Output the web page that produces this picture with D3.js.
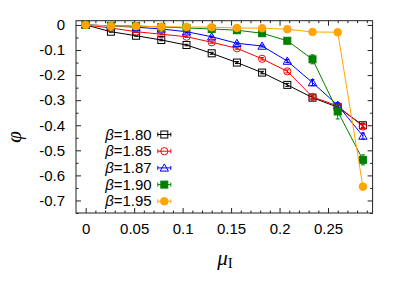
<!DOCTYPE html>
<html>
<head>
<meta charset="utf-8">
<script src="https://cdn.jsdelivr.net/npm/d3@7"></script>
<style>
  body { margin: 0; background: #fff; }
  text { font-family: "Liberation Sans", Arial, sans-serif; }
</style>
</head>
<body>
<div id="chart"></div>
<script>
// chemical potential values (x)
const mu = [0, 0.026, 0.052, 0.078, 0.104, 0.13, 0.156, 0.182, 0.208, 0.234, 0.26, 0.286];

const betas = ["1.80", "1.85", "1.87", "1.90", "1.95"];

const phi180 = [0, -0.027, -0.043, -0.060, -0.080, -0.113, -0.150, -0.190, -0.239, -0.290, -0.328, -0.400];
const phi185 = [0, -0.012, -0.027, -0.037, -0.047, -0.069, -0.093, -0.135, -0.185, -0.287, -0.323, -0.405];
const phi187 = [0, -0.004, -0.009, -0.016, -0.027, -0.047, -0.073, -0.084, -0.144, -0.230, -0.320, -0.443];
const phi190 = [0, -0.003, -0.004, -0.008, -0.012, -0.016, -0.021, -0.033, -0.063, -0.137, -0.345, -0.538];
const phi195 = [0, -0.004, -0.005, -0.007, -0.008, -0.009, -0.012, -0.013, -0.017, -0.028, -0.029, -0.645];

const err180 = [0, 0.002, 0.002, 0.003, 0.003, 0.004, 0.004, 0.005, 0.006, 0.006, 0.007, 0.008];
const err185 = [0, 0.002, 0.002, 0.003, 0.003, 0.004, 0.004, 0.005, 0.006, 0.006, 0.007, 0.008];
const err187 = [0, 0.002, 0.002, 0.002, 0.003, 0.003, 0.004, 0.004, 0.006, 0.012, 0.010, 0.012];
const err190 = [0, 0.001, 0.001, 0.002, 0.002, 0.002, 0.003, 0.003, 0.005, 0.018, 0.030, 0.020];
const err195 = [0, 0.001, 0.001, 0.001, 0.001, 0.001, 0.002, 0.002, 0.002, 0.003, 0.003, 0.005];

const xTicks = [0, 0.05, 0.1, 0.15, 0.2, 0.25];
const yTicks = [0, -0.1, -0.2, -0.3, -0.4, -0.5, -0.6, -0.7];

const series = [
  {beta: betas[0], y: phi180, e: err180, color: "#000000", shape: "square", fill: false},
  {beta: betas[1], y: phi185, e: err185, color: "#ff0000", shape: "circle", fill: false},
  {beta: betas[2], y: phi187, e: err187, color: "#0000ff", shape: "triangle", fill: false},
  {beta: betas[3], y: phi190, e: err190, color: "#008000", shape: "square", fill: true},
  {beta: betas[4], y: phi195, e: err195, color: "#ffa500", shape: "circle", fill: true}
];

const W = 407, H = 285;
const box = {left: 76, right: 372.6, top: 20.7, bottom: 213};

const svg = d3.select("#chart").append("svg")
    .attr("width", W)
    .attr("height", H);

const x = d3.scaleLinear().domain([-0.01, 0.296]).range([box.left, box.right]);
const y = d3.scaleLinear().domain([-0.75, 0.017]).range([box.bottom, box.top]);

const fmt = d => d === 0 ? "0" : String(d).replace("-", "-");

// axes (gnuplot style: ticks inward, mirrored)
const xMinor = d3.range(0, 0.2901, 0.01).map(v => +v.toFixed(2)).filter(v => !xTicks.includes(v));
const yMinor = d3.range(-0.75, 0.001, 0.05).map(v => +v.toFixed(2)).filter(v => !yTicks.includes(v));

svg.append("g")
    .attr("transform", `translate(0,${box.bottom})`)
    .call(d3.axisBottom(x).tickValues(xTicks).tickSize(-5).tickPadding(10).tickFormat(fmt));
svg.append("g")
    .attr("transform", `translate(0,${box.bottom})`)
    .call(d3.axisBottom(x).tickValues(xMinor).tickSize(-2.5).tickFormat(""));
svg.append("g")
    .attr("transform", `translate(0,${box.top})`)
    .call(d3.axisTop(x).tickValues(xTicks).tickSize(-5).tickFormat(""));
svg.append("g")
    .attr("transform", `translate(0,${box.top})`)
    .call(d3.axisTop(x).tickValues(xMinor).tickSize(-2.5).tickFormat(""));

svg.append("g")
    .attr("transform", `translate(${box.left},0)`)
    .call(d3.axisLeft(y).tickValues(yTicks).tickSize(-5).tickPadding(11).tickFormat(fmt));
svg.append("g")
    .attr("transform", `translate(${box.left},0)`)
    .call(d3.axisLeft(y).tickValues(yMinor).tickSize(-2.5).tickFormat(""));
svg.append("g")
    .attr("transform", `translate(${box.right},0)`)
    .call(d3.axisRight(y).tickValues(yTicks).tickSize(-5).tickFormat(""));
svg.append("g")
    .attr("transform", `translate(${box.right},0)`)
    .call(d3.axisRight(y).tickValues(yMinor).tickSize(-2.5).tickFormat(""));

svg.selectAll(".domain").remove();
svg.selectAll(".tick line").attr("stroke", "#222");
svg.selectAll(".tick text")
    .attr("fill", "#000")
    .style("font-size", "15px")
    .style("font-family", "'Liberation Sans', Arial, sans-serif");

svg.append("rect")
    .attr("x", box.left).attr("y", box.top)
    .attr("width", box.right - box.left).attr("height", box.bottom - box.top)
    .attr("fill", "none").attr("stroke", "#222").attr("stroke-width", 1);

// axis labels
svg.append("text")
    .attr("transform", "translate(21,137) rotate(-90)")
    .attr("text-anchor", "middle")
    .style("font-family", "'Liberation Serif', 'Times New Roman', serif")
    .style("font-style", "italic")
    .style("font-size", "21px")
    .text("φ");

const xl = svg.append("text")
    .attr("x", 225).attr("y", 265)
    .attr("text-anchor", "middle")
    .style("font-family", "'Liberation Serif', 'Times New Roman', serif")
    .style("font-size", "21px");
xl.append("tspan").style("font-style", "italic").text("μ");
xl.append("tspan").attr("dy", 3).style("font-size", "15px").text("I");

// marker drawing
function marker(g, shape, color, fill, cx, cy) {
  if (shape === "square") {
    g.append("rect")
      .attr("x", cx - 3.5).attr("y", cy - 3.5)
      .attr("width", 7).attr("height", 7)
      .attr("fill", fill ? color : "none")
      .attr("stroke", color).attr("stroke-width", 1);
  } else if (shape === "circle") {
    g.append("circle")
      .attr("cx", cx).attr("cy", cy).attr("r", fill ? 3.8 : 3.6)
      .attr("fill", fill ? color : "none")
      .attr("stroke", color).attr("stroke-width", 1);
  } else {
    g.append("path")
      .attr("d", d3.symbol().type(d3.symbolTriangle).size(30)())
      .attr("transform", `translate(${cx},${cy + 0.8})`)
      .attr("fill", "none")
      .attr("stroke", color).attr("stroke-width", 1);
  }
}

const line = d3.line().x(d => x(d[0])).y(d => y(d[1]));

series.forEach(s => {
  const g = svg.append("g");
  const pts = mu.map((m, i) => [m, s.y[i], s.e[i]]);
  g.append("path")
    .datum(pts)
    .attr("d", line)
    .attr("fill", "none")
    .attr("stroke", s.color)
    .attr("stroke-width", 1);
  pts.forEach(p => {
    const cx = x(p[0]);
    const y1 = y(p[1] + p[2]), y2 = y(p[1] - p[2]);
    g.append("path")
      .attr("d", `M${cx},${y1}V${y2}M${cx - 2},${y1}H${cx + 2}M${cx - 2},${y2}H${cx + 2}`)
      .attr("stroke", s.color).attr("fill", "none").attr("stroke-width", 1);
    marker(g, s.shape, s.color, s.fill, cx, y(p[1]));
  });
});

// legend
const legendX = 151.7, legendY0 = 134.5, legendDy = 16.7;
series.forEach((s, i) => {
  const cy = legendY0 + i * legendDy;
  const t = svg.append("text")
    .attr("x", legendX).attr("y", cy + 5)
    .attr("text-anchor", "end")
    .style("font-size", "15px");
  t.append("tspan").style("font-style", "italic").text("β");
  t.append("tspan").text("=" + s.beta);
  const g = svg.append("g");
  const sx = 164.3;
  g.append("path")
    .attr("d", `M${sx - 6.5},${cy}H${sx + 6.5}M${sx - 6.5},${cy - 2}V${cy + 2}M${sx + 6.5},${cy - 2}V${cy + 2}`)
    .attr("stroke", s.color).attr("stroke-width", 1).attr("fill", "none");
  marker(g, s.shape, s.color, s.fill, sx, cy);
});
</script>
</body>
</html>
